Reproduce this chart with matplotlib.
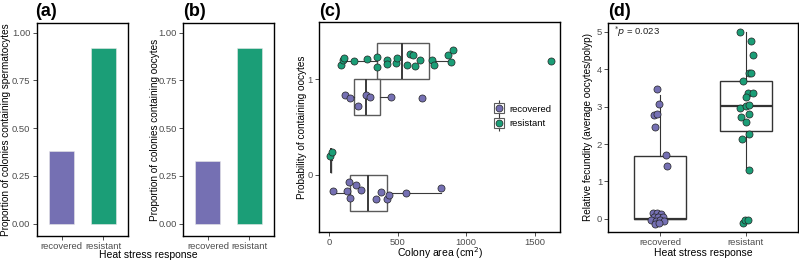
import numpy as np
import matplotlib.pyplot as plt
from matplotlib.lines import Line2D
from matplotlib.legend_handler import HandlerTuple

plt.rcParams['font.family'] = ['Liberation Sans', 'DejaVu Sans']

# colours for the two heat stress groups
purple = '#7570B3'
green = '#1B9E77'

groups = ['recovered', 'resistant']

# (a) and (b) proportions
prop_sperm = [0.38, 0.92]
prop_oocyte = [0.33, 0.92]

# (c) colony area vs oocytes (x = area, y = jittered 0/1 position)
res1_x = [85, 97, 109, 184, 274, 352, 347, 422, 420, 490, 498, 590, 609, 566, 629,
          663, 750, 765, 869, 900, 888, 1616]
res1_y = [1.146, 1.205, 1.226, 1.188, 1.215, 1.233, 1.128, 1.205, 1.163, 1.170, 1.226,
          1.267, 1.250, 1.146, 1.142, 1.198, 1.198, 1.146, 1.250, 1.302, 1.177, 1.191]
rec1_x = [117, 148, 209, 269, 294, 449, 680]
rec1_y = [0.833, 0.800, 0.719, 0.833, 0.810, 0.810, 0.800]
rec0_x = [27, 141, 133, 148, 197, 231, 342, 379, 420, 437, 559, 816]
rec0_y = [-0.167, -0.080, -0.167, -0.243, -0.104, -0.156, -0.253, -0.180, -0.250,
          -0.208, -0.190, -0.139]
res0_x = [7, 19]
res0_y = [0.200, 0.243]

# box statistics for (c): whislo, q1, med, q3, whishi, position, height
c_boxes = {
    'res1': (85, 347, 534, 728, 900, 1.1875, 0.375),
    'rec1': (117, 178, 269, 371, 449, 0.8125, 0.375),
    'rec0': (27, 148, 286, 425, 816, -0.1875, 0.375),
    'res0': (7, 12, 13, 14, 19, 0.15, 0.26),
}

# (d) relative fecundity
rec_d_x = [0.969, 0.985, 0.934, 0.969, 0.945, 1.066, 1.078,
           0.915, 0.962, 1.008, 0.930, 0.980, 1.030, 0.900, 0.953, 1.000, 1.047, 0.940, 0.990]
rec_d_y = [3.46, 3.06, 2.78, 2.80, 2.45, 1.71, 1.42,
           0.15, 0.17, 0.13, 0.045, 0.06, 0.06, -0.03, -0.045, -0.03, -0.053, -0.13, -0.115]
res_d_x = [1.934, 2.055, 2.078, 2.031, 2.062, 1.965, 2.020, 2.078, 2.000, 1.930, 2.000,
           2.040, 2.040, 1.946, 1.996, 2.035, 1.950, 2.035, 1.960, 1.990, 2.020]
res_d_y = [5.00, 4.76, 4.39, 3.90, 3.90, 3.67, 3.35, 3.35, 3.25, 2.97, 3.02,
           3.04, 2.80, 2.71, 2.60, 2.26, 2.13, 1.31, -0.10, -0.03, -0.03]
d_boxes = {
    'recovered': (0.0, 0.0, 0.0, 1.68, 3.31),
    'resistant': (1.31, 2.34, 3.02, 3.68, 5.00),
}


def style(ax):
    for s in ax.spines.values():
        s.set_linewidth(1.0)
        s.set_color('black')
    ax.tick_params(length=3, width=0.6, color='#333333', labelsize=6.8,
                   labelcolor='#4d4d4d', pad=1.5)
    ax.tick_params(axis='x', pad=1)


def make_stats(b):
    return dict(whislo=b[0], q1=b[1], med=b[2], q3=b[3], whishi=b[4], fliers=[])


W, H = 799, 261


def box(left, top, right, bottom):
    return [left / W, 1 - bottom / H, (right - left) / W, (bottom - top) / H]


fig = plt.figure(figsize=(7.99, 2.61), dpi=100)

# ---- (a)
ax_a = fig.add_axes(box(36.6, 23, 128, 236))
ax_a.bar([1, 2], prop_sperm, width=0.6, color=[purple, green], edgecolor='#e8e8e8', linewidth=0.4)
ax_a.set_xlim(0.4, 2.6)
ax_a.set_ylim(-0.065, 1.05)
ax_a.set_xticks([1, 2], groups)
ax_a.set_yticks([0, 0.25, 0.5, 0.75, 1.0], ['0.00', '0.25', '0.50', '0.75', '1.00'])
ax_a.set_ylabel('Proportion of colonies containing spermatocytes', fontsize=7.2, va='center')
ax_a.yaxis.set_label_coords(-0.33, 0.5)
style(ax_a)

# ---- (b)
ax_b = fig.add_axes(box(183, 23, 274.4, 236))
ax_b.bar([1, 2], prop_oocyte, width=0.6, color=[purple, green], edgecolor='#e8e8e8', linewidth=0.4)
ax_b.set_xlim(0.4, 2.6)
ax_b.set_ylim(-0.065, 1.05)
ax_b.set_xticks([1, 2], groups)
ax_b.set_yticks([0, 0.25, 0.5, 0.75, 1.0], ['0.00', '0.25', '0.50', '0.75', '1.00'])
ax_b.set_ylabel('Proportion of colonies containing oocytes', fontsize=7.2, va='center')
ax_b.yaxis.set_label_coords(-0.306, 0.5)
style(ax_b)

fig.text(148 / W, 1 - 255 / H, 'Heat stress response', ha='center', va='center', fontsize=7.5)

# ---- (c)
ax_c = fig.add_axes(box(319, 22, 560, 232))
for key, b in c_boxes.items():
    ax_c.bxp([make_stats(b)], positions=[b[5]], widths=[b[6]], orientation='horizontal',
             showfliers=False, showcaps=False, patch_artist=True, manage_ticks=False,
             boxprops=dict(facecolor='white', edgecolor='#5a5a5a', linewidth=1.0),
             medianprops=dict(color='#3a3a3a', linewidth=1.4),
             whiskerprops=dict(color='#3a3a3a', linewidth=0.8))
pt = dict(s=26, edgecolors='#222222', linewidths=0.5, zorder=5)
ax_c.scatter(res1_x, res1_y, c=green, **pt)
ax_c.scatter(res0_x, res0_y, c=green, **pt)
ax_c.scatter(rec1_x, rec1_y, c=purple, **pt)
ax_c.scatter(rec0_x, rec0_y, c=purple, **pt)
ax_c.set_xlim(-75, 1685)
ax_c.set_ylim(-0.6, 1.6)
ax_c.set_xticks([0, 500, 1000, 1500])
ax_c.set_yticks([0, 1])
ax_c.set_ylabel('Probability of containing oocytes', fontsize=7.2, va='center')
ax_c.yaxis.set_label_coords(-0.0705, 0.5)
style(ax_c)
fig.text(439.5 / W, 1 - 253 / H, 'Colony area (cm$^2$)', ha='center', va='center', fontsize=7.5)

handles = []
for col in [purple, green]:
    sq = Line2D([], [], marker='s', ms=7, mfc='white', mec='#5a5a5a', mew=0.8, ls='none')
    vline = Line2D([], [], marker='|', ms=11, mec='#3a3a3a', mew=0.8, ls='none')
    dot = Line2D([], [], marker='o', ms=5, mfc=col, mec='#222222', mew=0.5, ls='none')
    handles.append((vline, sq, dot))
ax_c.legend(handles, groups, handler_map={tuple: HandlerTuple(ndivide=1)},
            loc='center left', bbox_to_anchor=(0.69, 0.55), frameon=False,
            fontsize=6.8, handlelength=1.2, handletextpad=0.4, labelspacing=0.6)

# ---- (d)
ax_d = fig.add_axes(box(608.4, 22.7, 797.6, 232))
ax_d.bxp([make_stats(d_boxes[g]) for g in groups], positions=[1, 2], widths=0.6,
         showfliers=False, showcaps=False, patch_artist=True, manage_ticks=False,
         boxprops=dict(facecolor='white', edgecolor='#333333', linewidth=1.0),
         medianprops=dict(color='#333333', linewidth=1.6),
         whiskerprops=dict(color='#333333', linewidth=0.8))
ax_d.scatter(rec_d_x, rec_d_y, c=purple, **pt)
ax_d.scatter(res_d_x, res_d_y, c=green, **pt)
ax_d.set_xlim(0.4, 2.6)
ax_d.set_ylim(-0.35, 5.24)
ax_d.set_xticks([1, 2], groups)
ax_d.set_yticks([0, 1, 2, 3, 4, 5])
ax_d.set_ylabel('Relative fecundity (average oocytes/polyp)', fontsize=7.2, va='center')
ax_d.yaxis.set_label_coords(-0.108, 0.5)
ax_d.text(0.03, 0.956, r'$^{*}\mathit{p}$ = 0.023', transform=ax_d.transAxes,
          ha='left', va='center', fontsize=6.8, color='#222222')
style(ax_d)
fig.text(703 / W, 1 - 253 / H, 'Heat stress response', ha='center', va='center', fontsize=7.5)

# panel letters
for x, lab in [(35, '(a)'), (183, '(b)'), (319, '(c)'), (608, '(d)')]:
    fig.text(x / W, 1 - 12 / H, lab, ha='left', va='center', fontsize=13, fontweight='bold')

fig.savefig('out.png', dpi=100)
